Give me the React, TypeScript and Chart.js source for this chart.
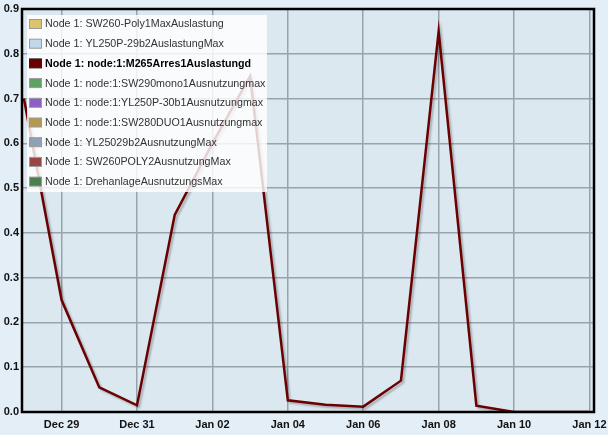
import React, { useEffect, useRef } from "react";
import { Chart, registerables } from "chart.js";

Chart.register(...registerables);

const dates = [
  "Dec 28", "Dec 29", "Dec 30", "Dec 31", "Jan 01", "Jan 02", "Jan 03", "Jan 04",
  "Jan 05", "Jan 06", "Jan 07", "Jan 08", "Jan 09", "Jan 10", "Jan 11", "Jan 12",
];
const arresValues = [
  0.7, 0.25, 0.055, 0.015, 0.44, 0.6, 0.75, 0.026,
  0.016, 0.012, 0.07, 0.85, 0.014, 0.0, 0.0, 0.0,
];
const seriesLabels = [
  "Node 1: SW260-Poly1MaxAuslastung",
  "Node 1: YL250P-29b2AuslastungMax",
  "Node 1: node:1:M265Arres1Auslastungd",
  "Node 1: node:1:SW290mono1Ausnutzungmax",
  "Node 1: node:1:YL250P-30b1Ausnutzungmax",
  "Node 1: node:1:SW280DUO1Ausnutzungmax",
  "Node 1: YL25029b2AusnutzungMax",
  "Node 1: SW260POLY2AusnutzungMax",
  "Node 1: DrehanlageAusnutzungsMax",
];
const seriesColors = [
  "#dcc46c", "#c2d7ea", "#6b0000", "#5fa064", "#8f5cc8",
  "#b39a52", "#8fa1b5", "#9a4646", "#4e7d4e",
];
const highlightedIndex = 2;
const yTicks = [0, 0.1, 0.2, 0.3, 0.4, 0.5, 0.6, 0.7, 0.8, 0.9];
const xTickIndices = [1, 3, 5, 7, 9, 11, 13, 15];

const FONT = "'Liberation Sans', Arial, sans-serif";

const bgPlugin = {
  id: "bgPlugin",
  beforeDraw(chart: any) {
    const { ctx, chartArea: a, width, height } = chart;
    ctx.save();
    ctx.fillStyle = "#e3eef6";
    ctx.fillRect(0, 0, width, height);
    ctx.fillStyle = "#dce8f0";
    ctx.fillRect(a.left, a.top, a.right - a.left, a.bottom - a.top);
    ctx.restore();
  },
};

const shadowPlugin = {
  id: "shadowPlugin",
  beforeDatasetDraw(chart: any) {
    const ctx = chart.ctx;
    ctx.save();
    ctx.shadowColor = "rgba(0,0,0,0.25)";
    ctx.shadowBlur = 2;
    ctx.shadowOffsetX = 2;
    ctx.shadowOffsetY = 2;
  },
  afterDatasetDraw(chart: any) {
    chart.ctx.restore();
  },
};

const framePlugin = {
  id: "framePlugin",
  afterDatasetsDraw(chart: any) {
    const { ctx, chartArea: a } = chart;
    ctx.save();
    const lx = 27, ly = 15, lw = 240, lh = 177;
    ctx.fillStyle = "rgba(255,255,255,0.82)";
    ctx.fillRect(lx, ly, lw, lh);
    seriesLabels.forEach((label, i) => {
      const cy = 24 + i * 19.7;
      ctx.fillStyle = seriesColors[i];
      ctx.fillRect(29.5, cy - 4.5, 12, 9);
      ctx.strokeStyle = i === highlightedIndex ? "#222" : "#999";
      ctx.lineWidth = 1;
      ctx.strokeRect(29.5, cy - 4.5, 12, 9);
      ctx.font = (i === highlightedIndex ? "bold " : "") + "10.7px " + FONT;
      ctx.fillStyle = i === highlightedIndex ? "#000" : "#333";
      ctx.textBaseline = "middle";
      ctx.textAlign = "left";
      ctx.fillText(label, 45, cy + 0.5);
    });
    ctx.strokeStyle = "#000";
    ctx.lineWidth = 2.5;
    ctx.strokeRect(a.left, a.top, a.right - a.left, a.bottom - a.top);
    ctx.restore();
  },
};

export default function App() {
  const ref = useRef<HTMLCanvasElement>(null);
  useEffect(() => {
    document.body.style.margin = "0";
    const datasets = seriesLabels.map((label, i) => ({
      label,
      data: i === highlightedIndex ? arresValues.map((v, k) => ({ x: k, y: v })) : [],
      borderColor: seriesColors[i],
      backgroundColor: seriesColors[i],
      borderWidth: 2.5,
      pointRadius: 0,
      tension: 0,
      fill: false,
    }));
    const chart = new Chart(ref.current!, {
      type: "line",
      data: { datasets },
      plugins: [bgPlugin, shadowPlugin, framePlugin],
      options: {
        animation: false,
        responsive: false,
        layout: { padding: { top: 9, right: 14, left: 0, bottom: 0 } },
        plugins: { legend: { display: false }, tooltip: { enabled: false } },
        scales: {
          x: {
            type: "linear",
            min: -0.05,
            max: 15.12,
            afterBuildTicks: (s: any) => {
              s.ticks = xTickIndices.map((v) => ({ value: v }));
            },
            afterFit: (s: any) => {
              s.height = 23;
              s.paddingLeft = 0;
              s.paddingRight = 0;
            },
            ticks: {
              autoSkip: false,
              maxRotation: 0,
              padding: 6,
              color: "#111",
              font: { family: FONT, size: 11, weight: "bold" },
              callback: (v: any) => dates[Math.round(v)] ?? "",
            },
            grid: { color: "#98a3ab", lineWidth: 1.5, drawTicks: false },
            border: { display: false },
          },
          y: {
            min: 0,
            max: 0.9,
            afterBuildTicks: (s: any) => {
              s.ticks = yTicks.map((v) => ({ value: v }));
            },
            afterFit: (s: any) => {
              s.width = 22;
              s.paddingTop = 0;
              s.paddingBottom = 0;
            },
            ticks: {
              padding: 3,
              color: "#111",
              font: { family: FONT, size: 11, weight: "bold" },
              callback: (v: any) => Number(v).toFixed(1),
            },
            grid: { color: "#98a3ab", lineWidth: 1.5, drawTicks: false },
            border: { display: false },
          },
        },
      } as any,
    });
    return () => chart.destroy();
  }, []);
  return (
    <div style={{ width: 608, height: 435 }}>
      <canvas ref={ref} width={608} height={435} style={{ display: "block" }} />
    </div>
  );
}
